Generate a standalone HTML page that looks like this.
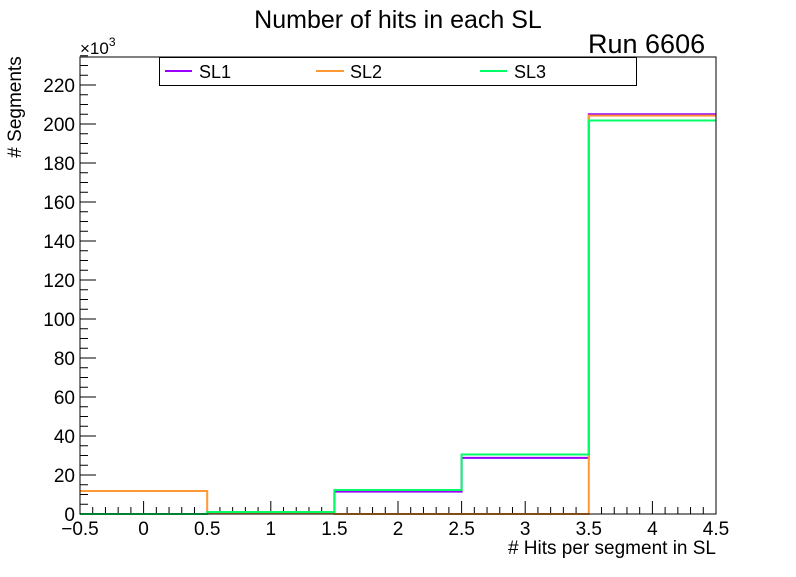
<!DOCTYPE html>
<html><head><meta charset="utf-8"><style>
body{margin:0;background:#fff;font-family:"Liberation Sans",sans-serif}
svg text{font-family:"Liberation Sans",sans-serif}
</style></head><body>
<svg id="c" width="796" height="572" xmlns="http://www.w3.org/2000/svg">
<rect width="796" height="572" fill="#fff"/>
<text x="398" y="28" font-size="25" text-anchor="middle">Number of hits in each SL</text>
<text x="588" y="53" font-size="27">Run 6606</text>
<text x="80" y="54" font-size="17">×10<tspan font-size="12" dy="-8">3</tspan></text>
<text transform="translate(21,107) rotate(-90)" font-size="19" text-anchor="middle"># Segments</text>
<text x="716" y="554" font-size="19" text-anchor="end"># Hits per segment in SL</text>
<g id="ax"></g><g id="series"></g>
<rect x="80" y="57" width="636" height="457" fill="none" stroke="#000" stroke-width="1"/>
<g>
<rect x="159.5" y="57.5" width="477" height="28" fill="#fff" stroke="#000"/>
<line x1="165" y1="71" x2="192" y2="71" stroke="#9900ff" stroke-width="2"/><text x="199" y="78" font-size="18">SL1</text>
<line x1="316" y1="71" x2="344" y2="71" stroke="#ff9933" stroke-width="2"/><text x="350" y="78" font-size="18">SL2</text>
<line x1="480" y1="71" x2="507" y2="71" stroke="#00ff66" stroke-width="2"/><text x="514" y="78" font-size="18">SL3</text>
</g>
</svg>
<script>
const binCenters=[0,1,2,3,4];
const sl1=[0,1,11.5,28.8,205];
const sl2=[11.8,0.3,0,0,204.3];
const sl3=[0,1,12.3,30.5,201.8];
const xTicks=[-0.5,0,0.5,1,1.5,2,2.5,3,3.5,4,4.5];
const xTickLabels=["−0.5","0","0.5","1","1.5","2","2.5","3","3.5","4","4.5"];
const yTicks=[0,20,40,60,80,100,120,140,160,180,200,220];
const NS="http://www.w3.org/2000/svg";
const X=v=>80+(v+0.5)*127.2, Y=v=>514-v*1.95;
function mk(t,a,p){const e=document.createElementNS(NS,t);for(const k in a)e.setAttribute(k,a[k]);p.appendChild(e);return e;}
const ax=document.getElementById('ax');
for(let v=-0.5;v<=4.5001;v+=0.1){const maj=Math.abs(v*2-Math.round(v*2))<1e-6;
 const l=mk('line',{x1:X(v),x2:X(v),y1:514,y2:514-(maj?13:7),stroke:'#000'},ax);
 
 }
xTicks.forEach((v,i)=>{const t=mk('text',{x:X(v),y:535,'font-size':19,'text-anchor':'middle'},ax);t.textContent=xTickLabels[i];
 
 });
for(let v=0;v<=236;v+=5){const maj=v%20==0;
 const l=mk('line',{x1:80,x2:80+(maj?16:8),y1:Y(v),y2:Y(v),stroke:'#000'},ax);
 
 }
yTicks.forEach(v=>{const t=mk('text',{x:75,y:Y(v)+7,'font-size':19,'text-anchor':'end'},ax);t.textContent=v;
 
 });
const sg=document.getElementById('series');
[[sl1,'#9900ff','sl1'],[sl2,'#ff9933','sl2'],[sl3,'#00ff66','sl3']].forEach(([d,c,n])=>{
 let p='M'+X(binCenters[0]-0.5)+','+Y(d[0]);
 d.forEach((v,i)=>{p+=' L'+X(binCenters[i]-0.5)+','+Y(v)+' L'+X(binCenters[i]+0.5)+','+Y(v);});
 const e=mk('path',{d:p,fill:'none',stroke:c,'stroke-width':2},sg);
 
 
});
</script>
</body></html>
